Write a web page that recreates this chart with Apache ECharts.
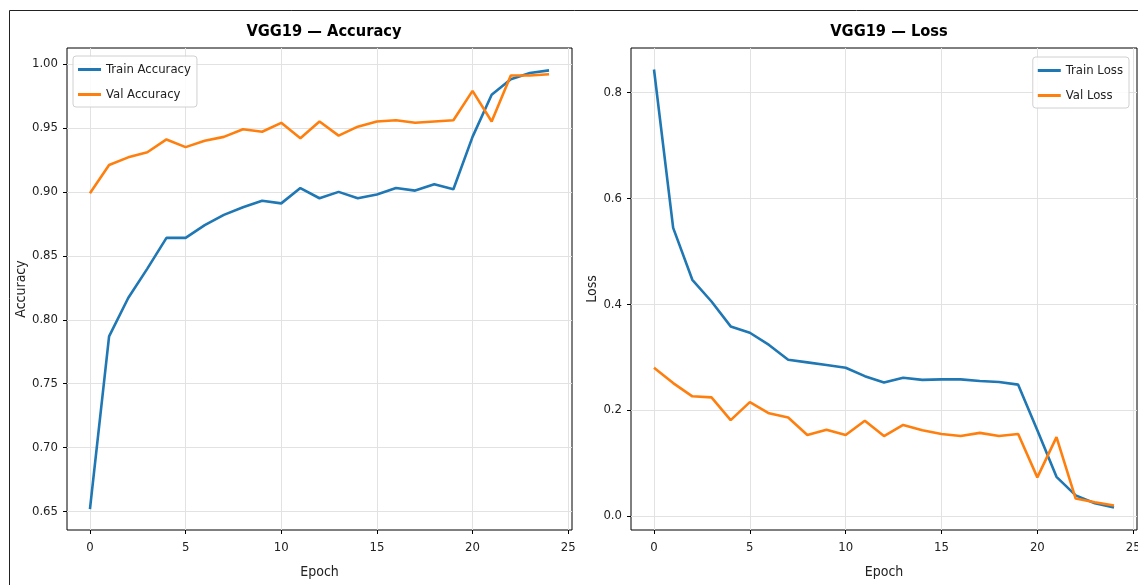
<!DOCTYPE html>
<html>
<head>
<meta charset="utf-8">
<title>VGG19 training curves</title>
<script src="https://cdn.jsdelivr.net/npm/echarts@6/dist/echarts.min.js"></script>
<style>
  html, body { margin: 0; padding: 0; background: #fff; }
  #main { width: 1138px; height: 585px; }
</style>
</head>
<body>
<div id="main"></div>
<script>
// epochs 0..24
const epochs = [0,1,2,3,4,5,6,7,8,9,10,11,12,13,14,15,16,17,18,19,20,21,22,23,24];

const trainAcc = [0.652,0.787,0.817,0.840,0.864,0.864,0.874,0.882,0.888,0.893,0.891,0.903,0.895,0.900,0.895,0.898,0.903,0.901,0.906,0.902,0.943,0.976,0.988,0.993,0.995];
const valAcc   = [0.899,0.921,0.927,0.931,0.941,0.935,0.940,0.943,0.949,0.947,0.954,0.942,0.955,0.944,0.951,0.955,0.956,0.954,0.955,0.956,0.979,0.955,0.991,0.991,0.992];

const trainLoss = [0.843,0.544,0.446,0.405,0.358,0.346,0.323,0.295,0.290,0.285,0.280,0.264,0.252,0.261,0.257,0.258,0.258,0.255,0.253,0.248,0.162,0.074,0.039,0.024,0.016];
const valLoss   = [0.280,0.251,0.226,0.224,0.181,0.215,0.194,0.186,0.153,0.163,0.153,0.180,0.151,0.172,0.162,0.155,0.151,0.157,0.151,0.155,0.073,0.149,0.033,0.026,0.020];

const epochTicks = [0,5,10,15,20,25];
const accTicks = [0.65,0.70,0.75,0.80,0.85,0.90,0.95,1.00];
const lossTicks = [0.0,0.2,0.4,0.6,0.8];

const BLUE = '#1f77b4';
const ORANGE = '#ff7f0e';
const FONT = '"DejaVu Sans Condensed", "DejaVu Sans", sans-serif';

const chart = echarts.init(document.getElementById('main'), null, { renderer: 'canvas' });

function pairs(ys) {
  return epochs.map((x, i) => [x, ys[i]]);
}

function xAxisCfg(gridIndex) {
  return {
    type: 'value', gridIndex: gridIndex,
    min: -1.2, max: 25.2,
    name: 'Epoch', nameLocation: 'middle', nameGap: 35,
    nameTextStyle: { fontFamily: FONT, fontSize: 14, color: '#222' },
    axisLine: { show: false, onZero: false },
    axisTick: { show: true, inside: false, customValues: epochTicks, length: 4, lineStyle: { color: '#000' } },
    axisLabel: { customValues: epochTicks, fontFamily: FONT, fontSize: 13, color: '#222', margin: 11 },
    splitLine: { show: true, lineStyle: { color: '#e2e2e2', width: 1 } }
  };
}

function yAxisCfg(gridIndex, name, ticks, min, max, digits, gap) {
  return {
    type: 'value', gridIndex: gridIndex,
    min: min, max: max,
    name: name, nameLocation: 'middle', nameGap: gap, nameRotate: 90,
    nameTextStyle: { fontFamily: FONT, fontSize: 14, color: '#222' },
    axisLine: { show: false, onZero: false },
    axisTick: { show: true, inside: false, customValues: ticks, length: 4, lineStyle: { color: '#000' } },
    axisLabel: {
      customValues: ticks, fontFamily: FONT, fontSize: 13, color: '#222', margin: 9,
      formatter: v => v.toFixed(digits)
    },
    splitLine: { show: true, lineStyle: { color: '#e2e2e2', width: 1 } }
  };
}

function lineSeries(name, data, color, xi, yi) {
  return {
    name: name, type: 'line', xAxisIndex: xi, yAxisIndex: yi,
    data: pairs(data), symbol: 'none', smooth: false,
    lineStyle: { color: color, width: 2.6 }, itemStyle: { color: color },
    z: 3
  };
}

const legendBase = {
  orient: 'vertical',
  icon: 'rect', itemWidth: 23, itemHeight: 3, itemGap: 12,
  backgroundColor: 'rgba(255,255,255,0.85)',
  borderColor: '#d0d0d0', borderWidth: 1, borderRadius: 3,
  padding: [7, 6, 6, 5],
  textStyle: { fontFamily: FONT, fontSize: 13, color: '#222' }
};

const option = {
  animation: false,
  backgroundColor: '#fff',
  title: [
    { text: 'VGG19 — Accuracy', left: 319, top: 19, textAlign: 'center',
      textStyle: { fontFamily: FONT, fontWeight: 'bold', fontSize: 16.3, color: '#000' } },
    { text: 'VGG19 — Loss', left: 884, top: 19, textAlign: 'center',
      textStyle: { fontFamily: FONT, fontWeight: 'bold', fontSize: 16.3, color: '#000' } }
  ],
  legend: [
    Object.assign({}, legendBase, { data: ['Train Accuracy', 'Val Accuracy'], left: 73, top: 56 }),
    Object.assign({}, legendBase, { data: ['Train Loss', 'Val Loss'], right: 9, top: 57 })
  ],
  grid: [
    { left: 67, top: 48, width: 505, height: 482, outerBoundsMode: 'none', containLabel: false,
      show: true, borderColor: '#000', borderWidth: 1, backgroundColor: 'transparent' },
    { left: 631, top: 48, width: 506, height: 482, outerBoundsMode: 'none', containLabel: false,
      show: true, borderColor: '#000', borderWidth: 1, backgroundColor: 'transparent' }
  ],
  xAxis: [xAxisCfg(0), xAxisCfg(1)],
  yAxis: [
    yAxisCfg(0, 'Accuracy', accTicks, 0.6356, 1.0125, 2, 36),
    yAxisCfg(1, 'Loss', lossTicks, -0.0264, 0.8836, 1, 27)
  ],
  series: [
    lineSeries('Train Accuracy', trainAcc, BLUE, 0, 0),
    lineSeries('Val Accuracy', valAcc, ORANGE, 0, 0),
    lineSeries('Train Loss', trainLoss, BLUE, 1, 1),
    lineSeries('Val Loss', valLoss, ORANGE, 1, 1)
  ],
  graphic: [
    // outer figure frame (only top and left edges visible)
    { type: 'polyline', silent: true,
      shape: { points: [[9.5, 600], [9.5, 10.5], [1140, 10.5]] },
      style: { stroke: '#222', lineWidth: 1, fill: null } }
  ]
};

chart.setOption(option);
</script>
</body>
</html>
